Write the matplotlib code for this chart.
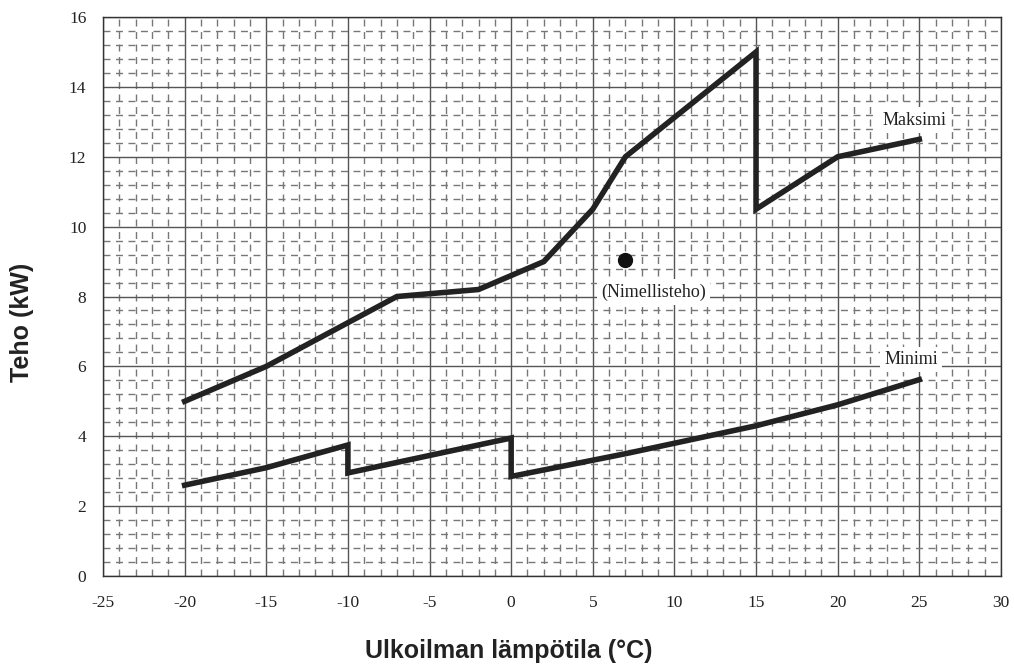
import matplotlib
matplotlib.use("Agg")
import matplotlib.pyplot as plt
from matplotlib.ticker import MultipleLocator

plt.rcParams['axes.unicode_minus'] = False

max_x = [-20, -15, -7, -2, 2, 5, 7, 15, 15, 20, 25]
max_y = [5.0, 6.0, 8.0, 8.2, 9.0, 10.5, 12.0, 15.0, 10.5, 12.0, 12.5]
min_x = [-20, -15, -10, -10, 0, 0, 7, 15, 20, 25]
min_y = [2.6, 3.1, 3.75, 2.95, 3.95, 2.85, 3.5, 4.3, 4.9, 5.62]
nominal_x = [7]
nominal_y = [9.05]
xticks = [-25, -20, -15, -10, -5, 0, 5, 10, 15, 20, 25, 30]
yticks = [0, 2, 4, 6, 8, 10, 12, 14, 16]

fig = plt.figure(figsize=(10.14, 6.7), dpi=100)
ax = fig.add_axes([0.1016, 0.1403, 0.8855, 0.8343])
ax.set_xlim(-25, 30)
ax.set_ylim(0, 16)
ax.set_xticks(xticks)
ax.set_yticks(yticks)
ax.xaxis.set_minor_locator(MultipleLocator(1))
ax.yaxis.set_minor_locator(MultipleLocator(0.4))
ax.grid(which='major', color='#555555', lw=1.0, ls='-', zorder=1)
ax.grid(which='minor', color='#777777', lw=1.0, ls=(0, (5, 4)), zorder=1)
ax.tick_params(axis='x', which='both', length=0, pad=14)
ax.tick_params(axis='y', which='both', length=0, pad=12)
for lab in ax.get_xticklabels() + ax.get_yticklabels():
    lab.set_fontfamily('Liberation Serif')
    lab.set_fontsize(12.5)
    lab.set_color('#222222')
for s in ax.spines.values():
    s.set_color('#333333')
    s.set_linewidth(1.0)
ax.set_axisbelow(True)

ax.plot(max_x, max_y, color='#222222', lw=4, solid_joinstyle='miter', zorder=3)
ax.plot(min_x, min_y, color='#222222', lw=4, solid_joinstyle='miter', zorder=3)
ax.plot(nominal_x, nominal_y, 'o', color='#111111', ms=10, zorder=4)

box = dict(facecolor='white', edgecolor='none', pad=3)
ax.text(24.7, 13.05, 'Maksimi', fontfamily='Liberation Serif', fontsize=13,
        ha='center', va='center', bbox=box, zorder=2, color='#222222')
ax.text(24.5, 6.2, 'Minimi', fontfamily='Liberation Serif', fontsize=13,
        ha='center', va='center', bbox=box, zorder=2, color='#222222')
ax.text(8.7, 8.13, '(Nimellisteho)', fontfamily='Liberation Serif', fontsize=13,
        ha='center', va='center', bbox=box, zorder=2, color='#222222')

fig.text(0.0217, 0.519, 'Teho (kW)', rotation=90, fontfamily='Liberation Sans',
         fontweight='bold', fontsize=18, ha='center', va='center', color='#222222')
fig.text(0.502, 0.028, 'Ulkoilman lämpötila (°C)', fontfamily='Liberation Sans',
         fontweight='bold', fontsize=18, ha='center', va='center', color='#222222')

fig.savefig('out.png', dpi=100)
